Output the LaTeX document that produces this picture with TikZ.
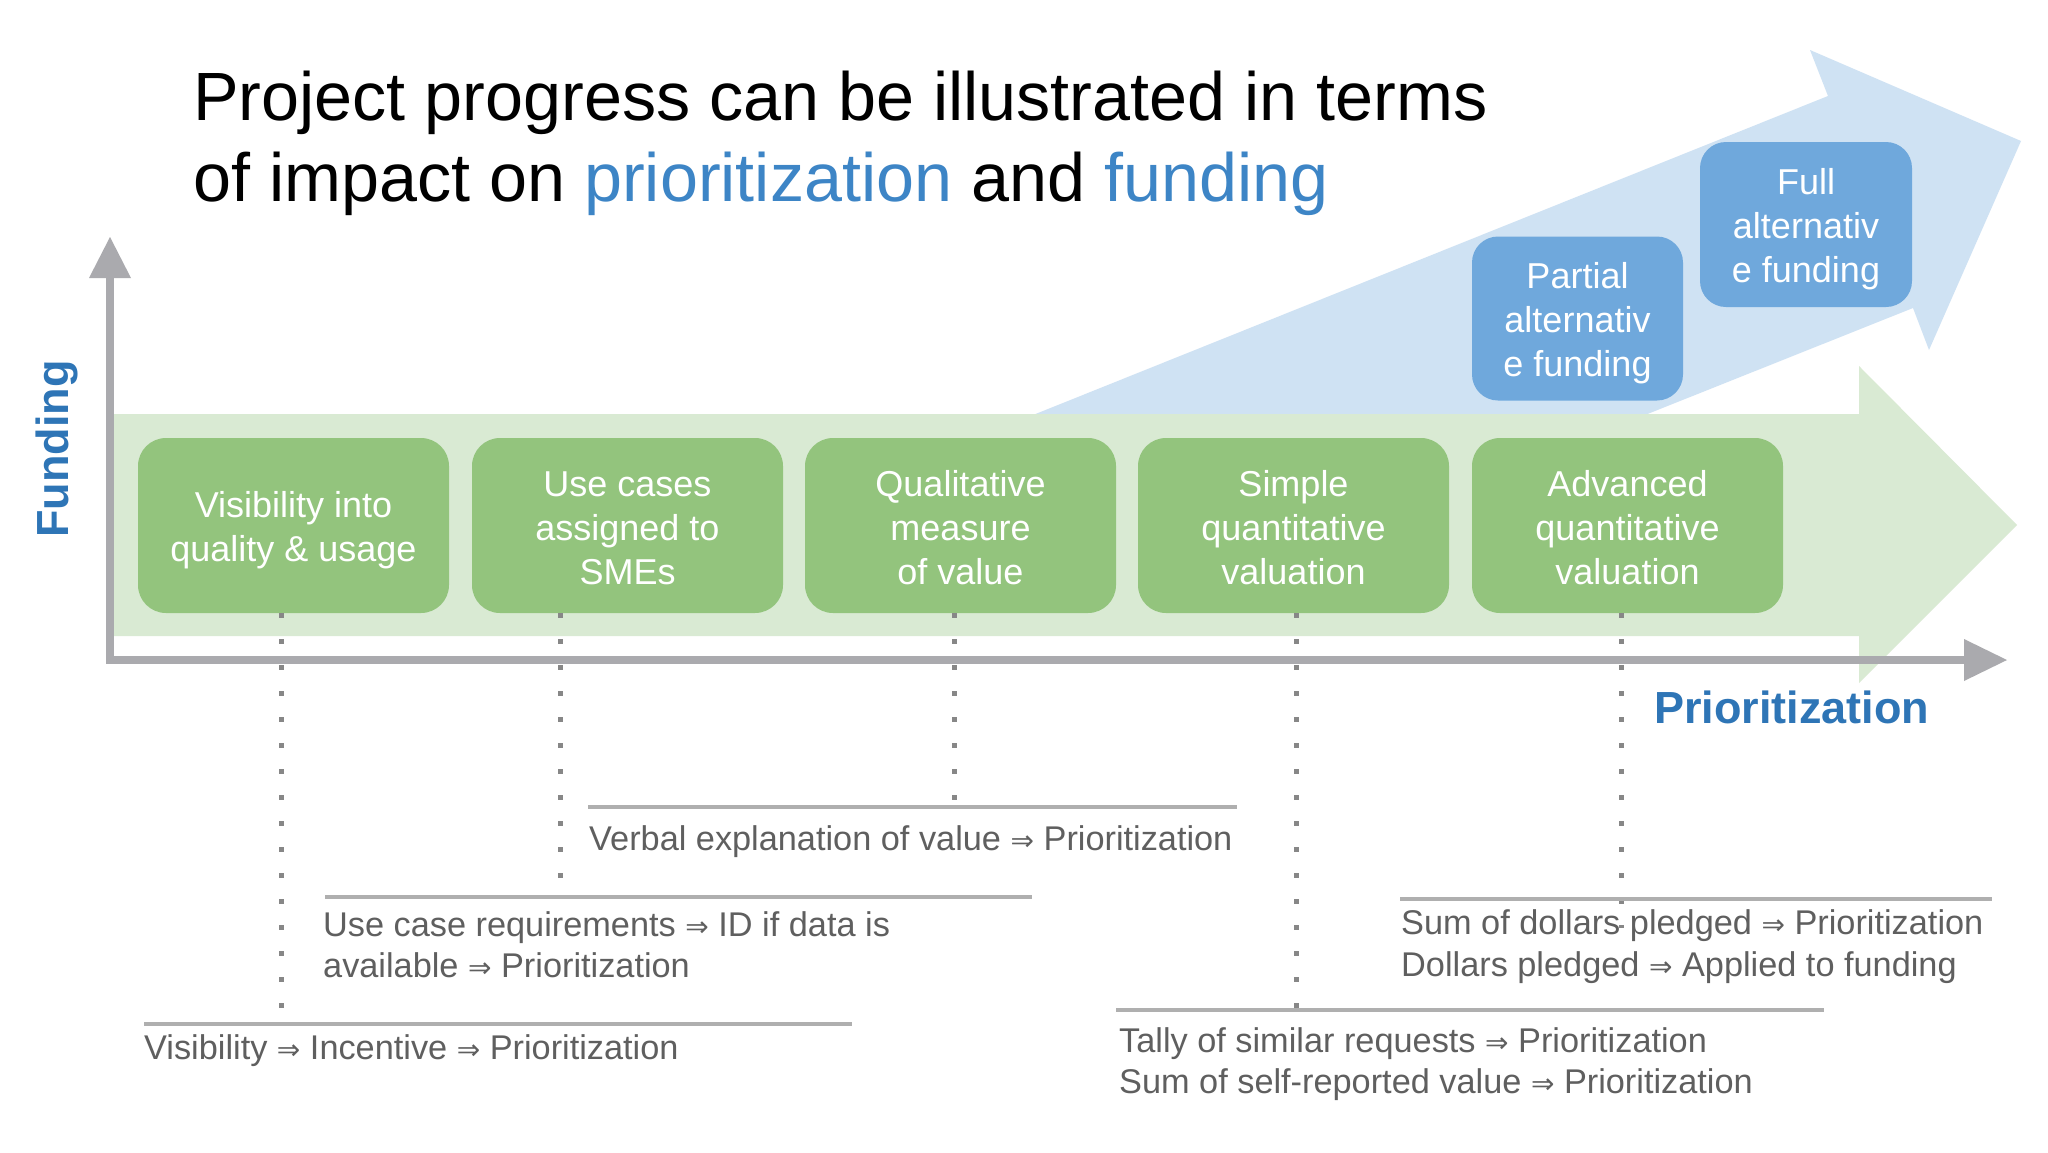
\documentclass[tikz,border=0pt]{standalone}
\usepackage{fontspec}
\setmainfont{Liberation Sans}
\newfontfamily\symfont{DejaVu Sans}
\newcommand{\imp}{{\symfont\fontsize{28}{30}\selectfont ⇒}}
\newcommand{\lift}[1]{\rule{0pt}{#1pt}}
\definecolor{greenband}{RGB}{217,234,211}
\definecolor{greenbox}{RGB}{147,196,125}
\definecolor{bluearrow}{RGB}{207,226,243}
\definecolor{bluebox}{RGB}{111,168,220}
\definecolor{axisgray}{RGB}{170,170,174}
\definecolor{dotgray}{RGB}{135,135,135}
\definecolor{rulegray}{RGB}{175,175,175}
\definecolor{textgray}{RGB}{95,95,95}
\definecolor{titleblue}{RGB}{61,133,198}
\definecolor{labelblue}{RGB}{46,117,182}
\begin{document}
\begin{tikzpicture}[x=1pt,y=-1pt,
  gbox/.style={rectangle, rounded corners=28pt, fill=greenbox, minimum width=311pt, minimum height=175pt, align=center, text=white, font=\fontsize{36}{44}\selectfont, inner sep=0pt},
  bbox/.style={rectangle, rounded corners=26pt, fill=bluebox, minimum width=211pt, minimum height=164pt, align=center, text=white, font=\fontsize{36}{44}\selectfont, inner sep=0pt},
  dotline/.style={draw=dotgray, line width=5pt, dash pattern=on 5pt off 21pt},
  hrule/.style={draw=rulegray, line width=4pt},
  annot/.style={anchor=base west, inner sep=0pt, text=textgray, font=\fontsize{34.3}{41}\selectfont},
  axisline/.style={draw=axisgray, line width=8pt, line join=miter},
]
\useasboundingbox (0,0) rectangle (2048,1152);
\fill[white] (0,0) rectangle (2048,1152);

% title
\node[anchor=base west, inner sep=0pt, font=\fontsize{68.3}{81}\selectfont] (t1) at (193,120) {Project progress can be illustrated in terms};
\node[anchor=base west, inner sep=0pt, font=\fontsize{68.3}{81}\selectfont] (t2) at (193,201) {of impact on \textcolor{titleblue}{prioritization} and \textcolor{titleblue}{funding}};

% blue arrow
\fill[bluearrow] (1033,415) -- (1828,96) -- (1810,50) -- (2021,141) -- (1929,350) -- (1913,308) -- (1645,415) -- cycle;
% green arrow
\fill[greenband] (114,414) -- (1859,414) -- (1859,366) -- (2017,525) -- (1859,683) -- (1859,636) -- (114,636) -- cycle;

% axes
\coordinate (ytop) at (110,278);
\coordinate (orig) at (110,660);
\coordinate (xend) at (1964,660);
\draw[axisline] (ytop) -- (orig) -- (xend);
\fill[axisgray] (89,278) -- (131,278) -- (110,237) -- cycle;
\fill[axisgray] (1964,639) -- (1964,681) -- (2007,660) -- cycle;

\node[rotate=90, inner sep=0pt, text=labelblue, font=\fontsize{45}{50}\selectfont\bfseries] (fy) at (57,449) {Funding};
\node[anchor=base west, inner sep=0pt, text=labelblue, font=\fontsize{45}{50}\selectfont\bfseries] (px) at (1654,723) {Prioritization};

% green boxes
\node[gbox] (b1) at (293.5,525.5) {\lift{36}Visibility into\\quality \& usage};
\node[gbox] (b2) at (627.5,525.5) {\lift{31}Use cases\\assigned to\\SMEs};
\node[gbox] (b3) at (960.5,525.5) {\lift{31}Qualitative\\measure\\of value};
\node[gbox] (b4) at (1293.5,525.5) {\lift{31}Simple\\quantitative\\valuation};
\node[gbox] (b5) at (1627.5,525.5) {\lift{31}Advanced\\quantitative\\valuation};

% blue boxes
\node[bbox] (p1) at (1577.5,318.5) {\lift{36}Partial\\alternativ\\e funding};
\node[bbox, minimum width=212pt, minimum height=165pt] (p2) at (1806,224.5) {\lift{36}Full\\alternativ\\e funding};

% dotted connectors
\coordinate (e1) at (281,1010);
\coordinate (e2) at (560,897);
\coordinate (e3) at (954,807);
\coordinate (e4) at (1296,1010);
\coordinate (e5) at (1621,928);
\draw[dotline] ([xshift=-12.5pt]b1.south) -- (e1);
\draw[dotline] ([xshift=-67.5pt]b2.south) -- (e2);
\draw[dotline] ([xshift=-6.5pt]b3.south) -- (e3);
\draw[dotline] ([xshift=2.5pt]b4.south) -- (e4);
\draw[dotline] ([xshift=-6.5pt]b5.south) -- (e5);

% rules
\coordinate (ra1) at (588,807);  \coordinate (ra2) at (1237,807);
\coordinate (rb1) at (325,897);  \coordinate (rb2) at (1032,897);
\coordinate (rc1) at (144,1024); \coordinate (rc2) at (852,1024);
\coordinate (rd1) at (1400,899); \coordinate (rd2) at (1992,899);
\coordinate (re1) at (1116,1010); \coordinate (re2) at (1824,1010);
\draw[hrule] (ra1) -- (ra2);
\draw[hrule] (rb1) -- (rb2);
\draw[hrule] (rc1) -- (rc2);
\draw[hrule] (rd1) -- (rd2);
\draw[hrule] (re1) -- (re2);

% annotations
\node[annot] (na) at (589,850) {Verbal explanation of value \imp{} Prioritization};
\node[annot] (nb1) at (323,936) {Use case requirements \imp{} ID if data is};
\node[annot] (nb2) at (323,977) {available \imp{} Prioritization};
\node[annot] (nc) at (144,1059) {Visibility \imp{} Incentive \imp{} Prioritization};
\node[annot] (nd1) at (1401,934) {Sum of dollars pledged \imp{} Prioritization};
\node[annot] (nd2) at (1401,976) {Dollars pledged \imp{} Applied to funding};
\node[annot] (ne1) at (1119,1052) {Tally of similar requests \imp{} Prioritization};
\node[annot] (ne2) at (1119,1093) {Sum of self-reported value \imp{} Prioritization};
\end{tikzpicture}
\end{document}
